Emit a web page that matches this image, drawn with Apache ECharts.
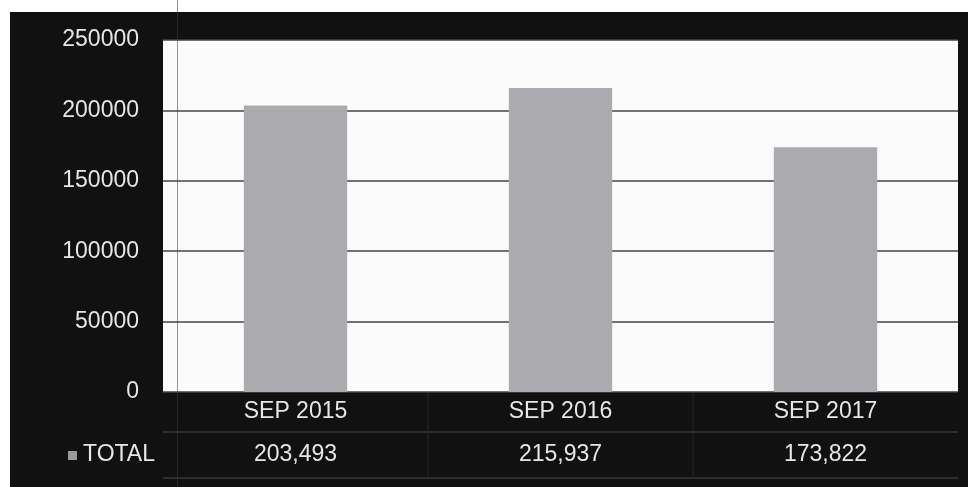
<!DOCTYPE html>
<html>
<head>
<meta charset="utf-8">
<script src="https://cdn.jsdelivr.net/npm/echarts@6/dist/echarts.min.js"></script>
<style>
html,body{margin:0;padding:0;background:#ffffff;width:973px;height:487px;overflow:hidden;position:relative;}
#chart{position:absolute;left:10px;top:12px;width:958px;height:475px;background:#111111;}
#scanline{position:absolute;left:177px;top:0;width:1px;height:487px;background:rgba(60,60,60,0.55);pointer-events:none;z-index:5;}
</style>
</head>
<body>
<div id="chart"></div>
<div id="scanline"></div>
<script>
var categories = ['SEP 2015', 'SEP 2016', 'SEP 2017'];
var totals = [203493, 215937, 173822];
var seriesName = 'TOTAL';
var yTicks = [0, 50000, 100000, 150000, 200000, 250000];

var fontFam = '"Liberation Sans", "DejaVu Sans", sans-serif';
var txt = '#e6e6e6';
var fs = 23;
var chart = echarts.init(document.getElementById('chart'), null, {renderer: 'canvas'});
var fmt = function (v) { return v.toLocaleString('en-US'); };

chart.setOption({
  backgroundColor: '#111111',
  animation: false,
  grid: {left: 153, right: 10, top: 28, bottom: 95, show: true, backgroundColor: '#fbfbfb', borderWidth: 0},
  xAxis: [{
    type: 'category',
    data: categories,
    position: 'bottom',
    axisLine: {show: false},
    axisTick: {show: false},
    axisLabel: {color: txt, fontSize: fs, fontFamily: fontFam, margin: 8}
  }, {
    type: 'category',
    data: totals.map(fmt),
    position: 'bottom',
    offset: 43,
    axisLine: {show: false},
    axisTick: {show: false},
    axisLabel: {color: txt, fontSize: fs, fontFamily: fontFam, margin: 8}
  }],
  yAxis: {
    type: 'value',
    min: yTicks[0],
    max: yTicks[yTicks.length - 1],
    interval: 50000,
    axisLine: {show: false},
    axisTick: {show: false},
    axisLabel: {color: txt, fontSize: fs, fontFamily: fontFam, margin: 24, formatter: function (v) { return String(v); }},
    splitLine: {lineStyle: {color: '#444444', width: 1.5}}
  },
  series: [{
    name: seriesName,
    type: 'bar',
    xAxisIndex: 0,
    data: totals,
    barWidth: '39%',
    itemStyle: {color: '#ababaf'}
  }],
  graphic: [
    {type: 'line', shape: {x1: 153, y1: 420, x2: 948, y2: 420}, style: {stroke: '#2e2e2e', lineWidth: 2}},
    {type: 'line', shape: {x1: 153, y1: 466, x2: 948, y2: 466}, style: {stroke: '#2e2e2e', lineWidth: 2}},
    {type: 'line', shape: {x1: 418, y1: 380, x2: 418, y2: 466}, style: {stroke: '#262626', lineWidth: 1}},
    {type: 'line', shape: {x1: 683, y1: 380, x2: 683, y2: 466}, style: {stroke: '#262626', lineWidth: 1}},
    {type: 'rect', shape: {x: 58, y: 439, width: 9, height: 9}, style: {fill: '#9a9a9a'}},
    {type: 'text', x: 145, y: 443, style: {text: seriesName, fill: txt, font: fs + 'px ' + fontFam, textAlign: 'right', textVerticalAlign: 'middle'}}
  ]
});
</script>
</body>
</html>
